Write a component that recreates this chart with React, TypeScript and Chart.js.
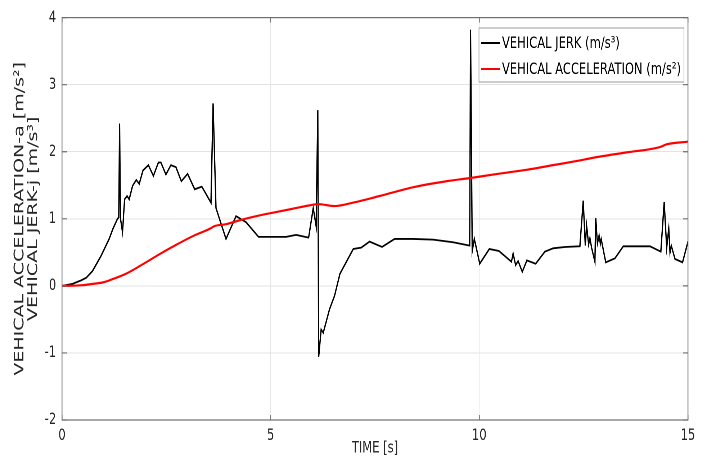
import React, { useEffect, useRef } from 'react';
import { Chart, registerables } from 'chart.js';

Chart.register(...registerables);

// ---------------- data ----------------
const jerkTime = [
  0, 0.25, 0.45, 0.58, 0.73, 0.93, 1.13, 1.22, 1.33, 1.36, 1.38, 1.40, 1.45,
  1.50, 1.56, 1.61, 1.69, 1.78, 1.85, 1.94, 2.07, 2.19, 2.31, 2.37, 2.49, 2.61,
  2.73, 2.86, 3.01, 3.18, 3.35, 3.57, 3.62, 3.69, 3.93, 4.17, 4.41, 4.71, 5.37,
  5.61, 5.91, 6.02, 6.09, 6.13, 6.15, 6.21, 6.26, 6.41, 6.53, 6.66, 6.98, 7.17,
  7.37, 7.67, 7.97, 8.41, 8.89, 9.37, 9.77, 9.79, 9.83, 9.88, 9.93, 10.01, 10.24,
  10.47, 10.77, 10.81, 10.87, 10.93, 11.03, 11.14, 11.35, 11.57, 11.77, 12.05,
  12.41, 12.49, 12.54, 12.57, 12.62, 12.65, 12.69, 12.77, 12.79, 12.83, 12.87,
  12.90, 12.92, 13.03, 13.25, 13.45, 14.09, 14.35, 14.43, 14.49, 14.54, 14.57,
  14.60, 14.69, 14.87, 15.0,
];
const jerkValue = [
  0, 0.03, 0.08, 0.12, 0.22, 0.44, 0.70, 0.85, 1.0, 1.02, 2.42, 1.01, 0.80,
  1.29, 1.34, 1.29, 1.49, 1.58, 1.52, 1.72, 1.80, 1.64, 1.84, 1.84, 1.66, 1.80,
  1.77, 1.56, 1.67, 1.44, 1.48, 1.24, 2.72, 1.16, 0.70, 1.04, 0.95, 0.73, 0.73,
  0.76, 0.72, 1.16, 0.89, 2.62, -1.06, -0.65, -0.70, -0.35, -0.15, 0.18, 0.55, 0.57,
  0.66, 0.58, 0.70, 0.70, 0.69, 0.65, 0.60, 3.82, 0.52, 0.70, 0.56, 0.33, 0.55,
  0.52, 0.36, 0.48, 0.31, 0.37, 0.21, 0.38, 0.33, 0.51, 0.56, 0.58,
  0.59, 1.27, 0.60, 0.90, 0.62, 0.71, 0.57, 0.36, 1.01, 0.63, 0.75,
  0.63, 0.70, 0.35, 0.41, 0.59, 0.59, 0.51, 1.25, 0.57, 0.86, 0.50,
  0.60, 0.40, 0.35, 0.66,
];
const accTime = [
  0, 0.5, 0.73, 0.97, 1.21, 1.53, 1.93, 2.33, 2.73, 3.13, 3.57, 3.65, 3.93, 4.33,
  4.73, 5.13, 5.53, 5.93, 6.13, 6.53, 6.97, 7.61, 8.41, 9.21, 9.81, 10.33, 11.13,
  11.77, 12.41, 12.73, 13.53, 14.33, 14.49, 15.0,
];
const accValue = [
  0, 0.01, 0.03, 0.05, 0.10, 0.18, 0.32, 0.47, 0.61, 0.74, 0.86, 0.89, 0.92, 0.99,
  1.05, 1.10, 1.15, 1.20, 1.22, 1.19, 1.24, 1.34, 1.47, 1.56, 1.61, 1.66, 1.73,
  1.80, 1.87, 1.91, 1.99, 2.07, 2.11, 2.15,
];
const xTicks = [0, 5, 10, 15];
const yTicks = [-2, -1, 0, 1, 2, 3, 4];
const seriesLabels = ['VEHICAL JERK (m/s\u00B3)', 'VEHICAL ACCELERATION (m/s\u00B2)'];
const yTitleLines = ['VEHICAL ACCELERATION-a [m/s\u00B2]', 'VEHICAL JERK-j [m/s\u00B3]'];
const xTitle = 'TIME [s]';

// ---------------- layout ----------------
const SX = 0.72; // horizontal squash of the reference picture
const W = Math.round(707 / SX);
const H = 458;
const PLOT_LEFT = 62 / SX;
const PLOT_RIGHT = 688 / SX;
const PLOT_TOP = 15;
const PLOT_BOTTOM = 420;
const FONT = "'DejaVu Sans', sans-serif";
const TEXT = '#262626';

const framePlugin = {
  id: 'matlabFrame',
  afterDatasetsDraw(chart: any) {
    const { ctx, chartArea: a, scales } = chart;
    ctx.save();
    ctx.strokeStyle = '#6e6e6e';
    ctx.lineWidth = 1.2;
    ctx.strokeRect(a.left, a.top, a.right - a.left, a.bottom - a.top);
    ctx.beginPath();
    scales.y.ticks.forEach((t: any) => {
      const py = scales.y.getPixelForValue(t.value);
      ctx.moveTo(a.left, py);
      ctx.lineTo(a.left + 7, py);
      ctx.moveTo(a.right, py);
      ctx.lineTo(a.right - 7, py);
    });
    scales.x.ticks.forEach((t: any) => {
      const px = scales.x.getPixelForValue(t.value);
      ctx.moveTo(px, a.bottom);
      ctx.lineTo(px, a.bottom - 5);
      ctx.moveTo(px, a.top);
      ctx.lineTo(px, a.top + 5);
    });
    ctx.stroke();
    ctx.restore();
  },
};

const legendPlugin = {
  id: 'boxLegend',
  afterDraw(chart: any) {
    const { ctx } = chart;
    const x0 = 479 / SX;
    const x1 = 684 / SX;
    const y0 = 28;
    const y1 = 82;
    ctx.save();
    ctx.fillStyle = '#ffffff';
    ctx.fillRect(x0, y0, x1 - x0, y1 - y0);
    ctx.strokeStyle = '#9a9a9a';
    ctx.lineWidth = 1;
    ctx.strokeRect(x0, y0, x1 - x0, y1 - y0);
    const rows = [43, 69];
    chart.data.datasets.forEach((ds: any, i: number) => {
      const y = rows[i];
      ctx.strokeStyle = ds.borderColor;
      ctx.lineWidth = 2;
      ctx.beginPath();
      ctx.moveTo(481 / SX, y);
      ctx.lineTo(500 / SX, y);
      ctx.stroke();
      ctx.fillStyle = '#000000';
      ctx.font = `16px ${FONT}`;
      ctx.textAlign = 'left';
      ctx.textBaseline = 'middle';
      ctx.fillText(ds.label, 502 / SX, y + 1);
    });
    ctx.restore();
  },
};

export default function App() {
  const canvasRef = useRef<HTMLCanvasElement | null>(null);

  useEffect(() => {
    const canvas = canvasRef.current;
    if (!canvas) return;
    const jerkPts = jerkTime.map((t, i) => ({ x: t, y: jerkValue[i] }));
    const accPts = accTime.map((t, i) => ({ x: t, y: accValue[i] }));
    const chart = new Chart(canvas, {
      type: 'line',
      data: {
        datasets: [
          {
            label: seriesLabels[0],
            data: jerkPts,
            borderColor: '#000000',
            borderWidth: 1.8,
            pointRadius: 0,
            tension: 0,
            fill: false,
            order: 1,
          },
          {
            label: seriesLabels[1],
            data: accPts,
            borderColor: '#ff0000',
            borderWidth: 2.2,
            pointRadius: 0,
            cubicInterpolationMode: 'monotone',
            fill: false,
            order: 0,
          },
        ],
      },
      options: {
        animation: false,
        responsive: false,
        devicePixelRatio: 2,
        events: [],
        layout: {
          padding: { left: 0, right: W - PLOT_RIGHT, top: PLOT_TOP, bottom: 0 },
        },
        plugins: {
          legend: { display: false },
          tooltip: { enabled: false },
        },
        scales: {
          x: {
            type: 'linear',
            min: 0,
            max: 15,
            afterBuildTicks: (s: any) => {
              s.ticks = xTicks.map((v) => ({ value: v }));
            },
            afterFit: (s: any) => {
              s.height = H - PLOT_BOTTOM;
            },
            grid: { color: '#e3e3e3', lineWidth: 1, drawTicks: false },
            border: { display: false },
            ticks: {
              padding: 6,
              color: TEXT,
              font: { family: FONT, size: 16 },
              maxRotation: 0,
              autoSkip: false,
            },
            title: {
              display: true,
              text: xTitle,
              color: TEXT,
              font: { family: FONT, size: 16, lineHeight: 1.2 },
              padding: { top: 0, bottom: 0 },
            },
          },
          y: {
            type: 'linear',
            min: -2,
            max: 4,
            afterBuildTicks: (s: any) => {
              s.ticks = yTicks.map((v) => ({ value: v }));
            },
            afterFit: (s: any) => {
              s.width = PLOT_LEFT;
            },
            grid: { color: '#e3e3e3', lineWidth: 1, drawTicks: false },
            border: { display: false },
            ticks: {
              padding: 8,
              color: TEXT,
              font: { family: FONT, size: 16 },
              autoSkip: false,
            },
            title: {
              display: true,
              text: yTitleLines,
              color: TEXT,
              font: { family: FONT, size: 19, lineHeight: 1.0 },
              padding: { top: 27.8 - 9.5, bottom: 0 },
            },
          },
        },
      } as any,
      plugins: [framePlugin, legendPlugin],
    });
    return () => chart.destroy();
  }, []);

  return (
    <div
      style={{
        position: 'fixed',
        left: 0,
        top: 0,
        width: 707,
        height: H,
        overflow: 'hidden',
        background: '#ffffff',
      }}
    >
      <div style={{ width: W, height: H, transform: `scaleX(${707 / W})`, transformOrigin: '0 0' }}>
        <canvas ref={canvasRef} width={W} height={H} style={{ display: 'block', width: W, height: H }} />
      </div>
    </div>
  );
}
